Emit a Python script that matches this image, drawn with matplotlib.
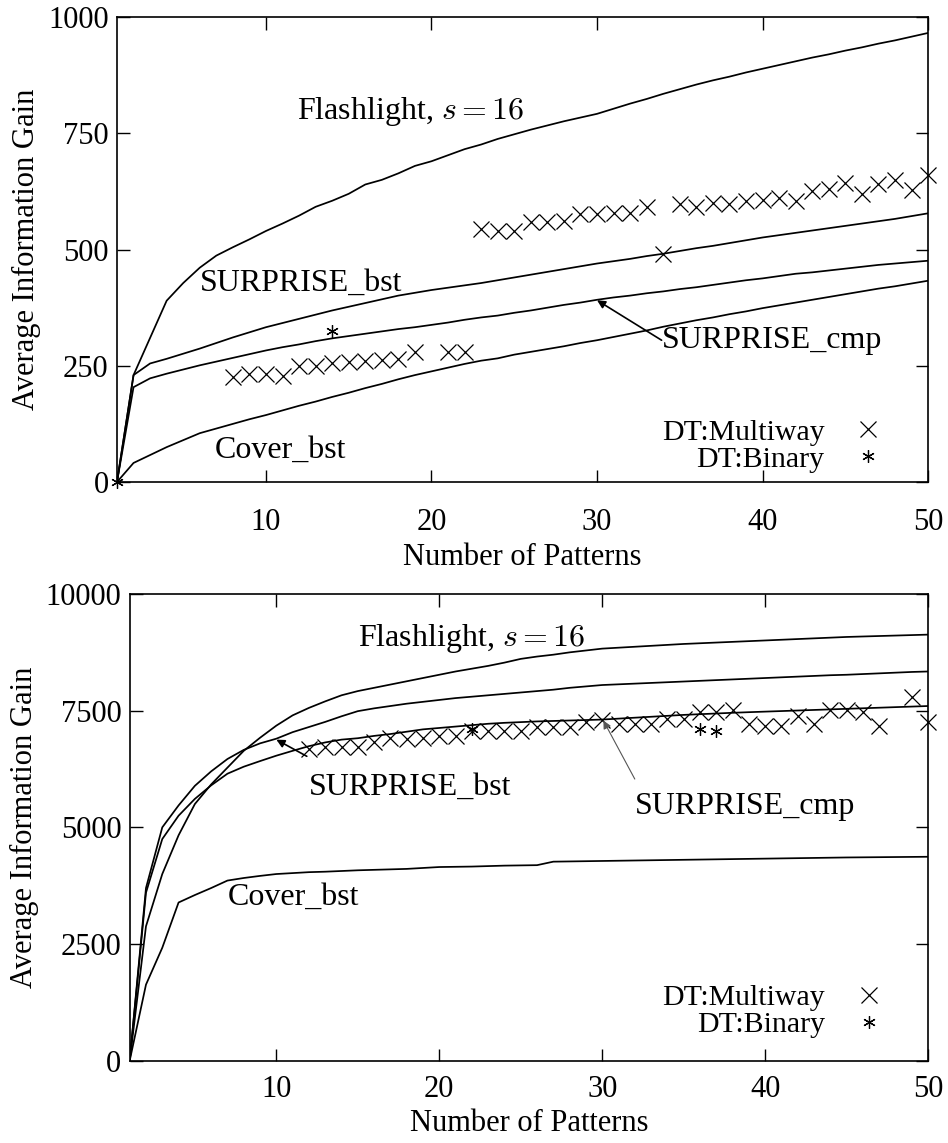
import numpy as np
import matplotlib
matplotlib.use("Agg")
import matplotlib.pyplot as plt

plt.rcParams['font.family'] = ['Liberation Serif', 'DejaVu Serif']
plt.rcParams['mathtext.fontset'] = 'cm'
plt.rcParams['font.size'] = 22

n_patterns = np.arange(1, 51)

# upper plot
top_flash = [0, 230, 310, 390, 428, 461, 487, 505, 522, 540,
             556, 573, 592, 605, 620, 640, 650, 664, 680, 690,
             703, 716, 726, 738, 748, 758, 767, 776, 784, 792,
             803, 814, 824, 835, 845, 855, 864, 872, 881, 889,
             897, 905, 913, 920, 928, 935, 943, 950, 958, 966]
top_sbst = [0, 230, 255, 265, 276, 287, 299, 311, 322, 333,
            342, 351, 360, 369, 377, 385, 393, 401, 407, 413,
            418, 423, 428, 434, 440, 446, 452, 458, 464, 470,
            475, 480, 486, 491, 497, 503, 508, 514, 520, 526,
            531, 536, 541, 546, 551, 556, 561, 566, 572, 578]
top_scmp = [0, 204, 223, 233, 242, 251, 259, 267, 275, 283,
            290, 296, 303, 309, 314, 319, 324, 329, 333, 338,
            343, 349, 354, 358, 364, 369, 375, 381, 386, 392,
            397, 401, 406, 410, 415, 419, 424, 429, 434, 438,
            443, 448, 451, 455, 459, 463, 467, 470, 473, 476]
top_cover = [0, 41, 58, 75, 90, 105, 115, 125, 135, 144,
             154, 164, 173, 183, 192, 202, 211, 221, 230, 238,
             246, 254, 261, 266, 274, 280, 286, 292, 299, 305,
             312, 319, 326, 334, 341, 348, 354, 361, 367, 374,
             380, 386, 392, 398, 404, 410, 416, 421, 427, 433]
top_multi_x = [8, 9, 10, 11, 12, 13, 14, 15, 16, 17, 18, 19, 21, 22,
               23, 24, 25, 26, 27, 28, 29, 30, 31, 32, 33, 34,
               35, 36, 37, 38, 39, 40, 41, 42, 43, 44, 45, 46, 47, 48, 49, 50]
top_multi_y = [226, 232, 232, 228, 250, 250, 255, 258, 260, 262, 265, 280, 280, 280,
               545, 541, 541, 559, 560, 561, 577, 577, 578, 578, 592, 491,
               598, 592, 601, 598, 605, 607, 612, 605, 627, 630, 644, 620, 641, 650, 628, 661]
top_bin_x = [1, 14]
top_bin_y = [0, 325]

# lower plot
bot_flash = [0, 2880, 4000, 4830, 5500, 5920, 6280, 6640, 6920, 7180,
             7400, 7560, 7700, 7830, 7920, 7990, 8060, 8130, 8200, 8270,
             8340, 8400, 8460, 8530, 8610, 8660, 8700, 8750, 8790, 8830,
             8850, 8870, 8890, 8910, 8930, 8945, 8960, 8975, 8990, 9005,
             9020, 9035, 9050, 9065, 9080, 9090, 9100, 9110, 9120, 9130]
bot_sbst = [0, 3700, 5000, 5470, 5890, 6200, 6465, 6660, 6800, 6900,
            7040, 7150, 7260, 7380, 7490, 7550, 7600, 7650, 7690, 7730,
            7770, 7800, 7830, 7860, 7890, 7920, 7950, 7990, 8020, 8050,
            8065, 8080, 8095, 8110, 8125, 8140, 8155, 8170, 8185, 8200,
            8215, 8230, 8245, 8260, 8270, 8285, 8300, 8315, 8330, 8340]
bot_scmp = [0, 3600, 4750, 5250, 5610, 5900, 6150, 6300, 6420, 6536,
            6640, 6740, 6820, 6880, 6910, 6960, 7000, 7050, 7100, 7130,
            7160, 7190, 7220, 7240, 7255, 7270, 7280, 7290, 7300, 7310,
            7330, 7350, 7370, 7390, 7410, 7425, 7440, 7455, 7468, 7480,
            7492, 7504, 7516, 7528, 7540, 7552, 7564, 7576, 7588, 7600]
bot_cover = [0, 1630, 2420, 3390, 3550, 3700, 3860, 3915, 3960, 4000,
             4020, 4040, 4050, 4065, 4080, 4090, 4100, 4110, 4130, 4150,
             4155, 4160, 4170, 4180, 4185, 4190, 4265, 4270, 4275, 4280,
             4285, 4290, 4295, 4300, 4305, 4310, 4315, 4320, 4325, 4330,
             4335, 4340, 4345, 4350, 4355, 4358, 4361, 4364, 4367, 4370]
bot_multi_x = list(range(12, 48)) + [49, 50]
bot_multi_y = [6680, 6716, 6716, 6716, 6837, 6910, 6895, 6910, 6953, 6966,
               7074, 7074, 7074, 7074, 7146, 7146, 7146, 7254, 7300, 7218,
               7218, 7218, 7325, 7325, 7469, 7469, 7505, 7218, 7181, 7181,
               7396, 7218, 7505, 7505, 7469, 7181, 7792, 7254]
bot_bin_x = [22, 36, 37]
bot_bin_y = [7110, 7110, 7075]

asterisk = (6, 2, 0)


def draw_panel(ax, curves, multi, binary, ymax, yticks, labels, arrows,
               leg_anchor, xpad, xlabelpad):
    for ys in curves:
        ax.plot(n_patterns, ys, color='black', lw=1.25)
    ax.plot(multi[0], multi[1], ls='none', marker='x', ms=11.5, mew=0.9,
            color='black', clip_on=False, label='DT:Multiway')
    ax.plot(binary[0], binary[1], ls='none', marker=asterisk, ms=9, mew=0.9,
            color='black', clip_on=False, label='DT:Binary')
    for (x, y, s) in labels:
        ax.text(x, y, s, ha='left', va='center', fontsize=23)
    for (tail, tip, c, lw) in arrows:
        ax.annotate('', xy=tip, xytext=tail,
                    arrowprops=dict(arrowstyle='-|>', color=c, lw=lw,
                                    mutation_scale=12, shrinkA=0, shrinkB=0))
    ax.set_xlim(1, 50)
    ax.set_ylim(0, ymax)
    ax.set_xticks([10, 20, 30, 40, 50])
    ax.set_yticks(yticks)
    ax.tick_params(direction='in', length=9, width=1, top=True, right=True)
    ax.tick_params(axis='x', pad=xpad)
    ax.tick_params(axis='y', pad=6)
    for sp in ax.spines.values():
        sp.set_linewidth(1.2)
    ax.set_xlabel('Number of Patterns', labelpad=xlabelpad)
    ax.set_ylabel('Average Information Gain', labelpad=5)
    ax.legend(loc='lower right', bbox_to_anchor=leg_anchor, frameon=False,
              markerfirst=False, handlelength=1.2, handletextpad=0.85,
              labelspacing=0.0, borderpad=0, borderaxespad=0, fontsize=21.5)


fig = plt.figure(figsize=(9.48, 11.43), dpi=100)

ax1 = fig.add_axes([0.1234, 0.5783, 0.979 - 0.1234, 0.985 - 0.5783])
draw_panel(ax1,
           [top_flash, top_sbst, top_scmp, top_cover],
           (top_multi_x, top_multi_y), (top_bin_x, top_bin_y),
           1000, [0, 250, 500, 750, 1000],
           [(11.9, 798, r'Flashlight, $s=16$'),
            (6.0, 427, 'SURPRISE_bst'),
            (33.9, 305, 'SURPRISE_cmp'),
            (6.9, 69, 'Cover_bst')],
           [((33.9, 305), (30.0, 391), 'black', 1.2)],
           (0.948, 0.02), 19, 4)

ax2 = fig.add_axes([0.1368, 0.072, 0.979 - 0.1368, 0.4803 - 0.072])
draw_panel(ax2,
           [bot_flash, bot_sbst, bot_scmp, bot_cover],
           (bot_multi_x, bot_multi_y), (bot_bin_x, bot_bin_y),
           10000, [0, 2500, 5000, 7500, 10000],
           [(15.0, 9050, r'Flashlight, $s=16$'),
            (12.0, 5850, 'SURPRISE_bst'),
            (32.0, 5450, 'SURPRISE_cmp'),
            (7.0, 3500, 'Cover_bst')],
           [((11.87, 6523), (10.0, 6880), 'black', 1.2),
            ((32.0, 6035), (30.07, 7289), '#555555', 0.8)],
           (0.948, 0.048), 10, 4)

fig.savefig('out.png', dpi=100)
